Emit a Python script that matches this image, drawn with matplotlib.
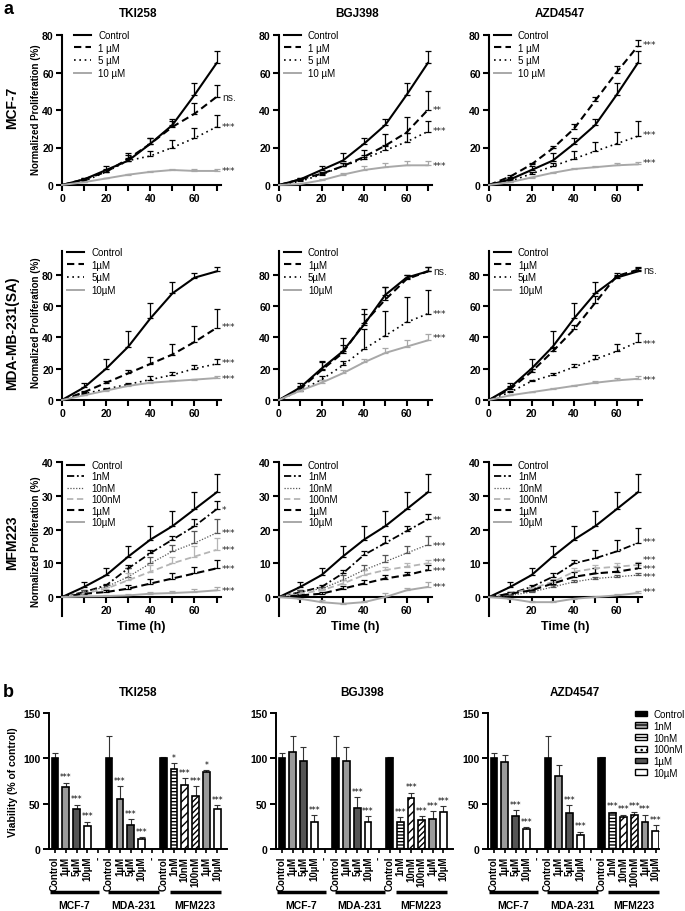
import numpy as np
import matplotlib.pyplot as plt
from matplotlib.patches import Patch
import matplotlib.transforms as mtransforms

plt.rcParams['font.family'] = ['Liberation Sans', 'DejaVu Sans']
plt.rcParams['hatch.linewidth'] = 1.0

# ---------------- panel a data ----------------
t_hours = [0, 10, 20, 30, 40, 50, 60, 70]
drugs = ['TKI258', 'BGJ398', 'AZD4547']
cell_lines = ['MCF-7', 'MDA-MB-231(SA)', 'MFM223']

labels_mcf7 = ['Control', '1 µM', '5 µM', '10 µM']
labels_mda = ['Control', '1µM', '5µM', '10µM']
labels_mfm = ['Control', '1nM', '10nM', '100nM', '1µM', '10µM']

# MCF-7
mcf7_ctrl = [0, 3, 8, 13, 22, 32, 48, 65]
mcf7_ctrl_err = [0, 1, 2, 4, 3, 3, 6.5, 6.5]
mcf7_tki = [[0, 3, 7, 14, 22, 31, 38, 47],
            [0, 2, 7, 13, 15.5, 20, 25, 31],
            [0, 1.5, 3.5, 5.5, 7, 8, 7.5, 7.5]]
mcf7_tki_err = [[0, 1, 1.5, 2, 3, 3, 6, 6.5],
                [0, 0.5, 1, 1.5, 2.5, 4, 5.5, 6.5],
                [0, 0.3, 0.3, 0.3, 0.6, 0.8, 1, 0.8]]
mcf7_bgj = [[0, 3, 6, 10, 15, 21, 28, 40],
            [0, 2, 5.5, 10, 14, 18.5, 23, 28.5],
            [0, 0.5, 2.5, 5.5, 8, 9.5, 10.5, 10.5]]
mcf7_bgj_err = [[0, 0.5, 1, 2, 3.5, 6, 8.5, 10],
                [0, 0.5, 1, 1.5, 2, 3, 5, 5.5],
                [0, 0.3, 0.5, 0.8, 2, 2.5, 2.5, 2.5]]
mcf7_azd = [[0, 4.5, 11, 19.5, 30, 45, 60, 74],
            [0, 2, 6, 10, 14, 18, 22, 26],
            [0, 1.5, 4, 6.5, 8.5, 9.5, 10.5, 11]]
mcf7_azd_err = [[0, 1, 1, 1.5, 2.5, 2, 3.5, 3.5],
                [0, 0.5, 1, 2, 4, 5, 6.5, 8],
                [0, 0.3, 0.5, 0.5, 0.8, 0.8, 1, 1.5]]

# MDA-MB-231(SA)
mda_ctrl = [0, 8, 20, 34, 52, 68, 78, 82]
mda_ctrl_err = [0, 3, 6, 10, 10, 7, 3, 3]
mda_bgj_ctrl = [0, 8, 20, 31, 48, 67, 78, 82]
mda_bgj_ctrl_err = [0, 3, 5, 8.5, 10, 5, 2, 3]
mda_tki = [[0, 5, 11, 17, 23, 29, 37, 46],
           [0, 4, 7, 10, 13, 16, 20, 23],
           [0, 3, 6, 9, 11, 12, 13, 14]]
mda_tki_err = [[0, 1, 1, 2, 4.5, 7, 10.5, 12],
               [0, 0.5, 0.5, 1, 2, 2, 2, 3],
               [0, 0.3, 0.3, 0.5, 0.5, 0.5, 0.5, 1]]
mda_bgj = [[0, 7, 19, 30, 49, 64, 77, 82],
           [0, 6, 13, 22, 32.5, 41, 49.5, 55],
           [0, 6, 11, 17, 24, 30, 34, 38]]
mda_bgj_err = [[0, 2, 5, 5, 6, 8, 3, 3],
               [0, 1, 2, 3, 12.5, 15.5, 16, 15],
               [0, 1, 1.5, 2, 2, 3, 4, 4]]
mda_azd = [[0, 7, 18, 31, 45, 62, 79, 83],
           [0, 5, 12, 16, 21, 26, 31, 37],
           [0, 3, 5, 7, 9, 11, 12.5, 13.5]]
mda_azd_err = [[0, 2, 2, 2, 3, 4, 1, 1],
               [0, 1, 1, 1.5, 2, 3, 5, 6],
               [0, 0.3, 0.3, 0.5, 0.5, 1, 1.5, 2]]

# MFM223
mfm_ctrl = [0, 3, 6.5, 12, 17, 21, 26, 31]
mfm_ctrl_err = [0, 1.5, 2, 3, 4, 4.5, 5, 5.5]
mfm_tki = [[0, 1.5, 3.5, 8.5, 13, 17, 21, 26],
           [0, 1.5, 3, 6, 10, 13.5, 16, 19],
           [0, 1, 2.5, 5, 7.5, 10, 12, 14],
           [0, 1, 1.5, 2.5, 4, 5.5, 7, 8.5],
           [0, 0.2, 0.3, 0.5, 1, 1.2, 1.5, 2]]
mfm_tki_err = [[0, 0.5, 0.5, 1, 1, 1, 2, 2.5],
               [0, 0.5, 0.5, 2.5, 2, 2, 3.5, 4],
               [0, 0.5, 0.5, 2, 2, 2, 3, 3.5],
               [0, 0.3, 0.5, 1, 1.5, 1.5, 2, 2.5],
               [0, 0.2, 0.3, 0.3, 0.5, 0.5, 1, 1]]
mfm_bgj = [[0, 1.5, 3, 7, 12.5, 16, 19.5, 23],
           [0, 1.5, 2.5, 5, 8, 10.5, 13, 15.5],
           [0, 1, 2, 4, 6.5, 8, 9, 10],
           [0, 0.5, 1, 2.5, 4, 5.5, 6.5, 8],
           [0, -0.5, -1.5, -2, -1.5, 0, 2, 3]]
mfm_bgj_err = [[0, 0.5, 0.5, 1, 1, 2, 1.5, 1.5],
               [0, 0.5, 0.5, 1.5, 1.5, 2, 2, 2.5],
               [0, 0.5, 0.5, 1, 1.5, 1, 1, 1],
               [0, 0.3, 0.5, 0.8, 1, 1, 1, 1.5],
               [0, 0.3, 0.5, 0.3, 0.3, 1.3, 0.8, 1.5]]
mfm_azd = [[0, 1, 3, 6, 10, 11.5, 13.5, 16],
           [0, 0.5, 1.5, 3, 4.5, 5.5, 6, 6.5],
           [0, 1, 2.5, 4.5, 7.5, 8.5, 9, 9.5],
           [0, 1, 2, 4, 6, 7, 7.5, 8.5],
           [0, -0.5, -1.5, -1.5, -0.5, 0, 0.5, 1.2]]
mfm_azd_err = [[0, 0.5, 0.5, 1, 1, 2.5, 3.5, 4.5],
               [0, 0.3, 0.3, 0.5, 0.5, 0.5, 0.5, 0.5],
               [0, 0.5, 0.5, 1, 1, 1, 1, 1],
               [0, 0.5, 0.5, 1, 1.5, 1.5, 1.5, 1.5],
               [0, 0.3, 0.3, 0.3, 0.3, 0.3, 0.5, 0.7]]

# significance labels at end of curves
sig_mcf7 = [(['ns.', '***', '***'], [47, 31, 7.5]),
            (['**', '***', '***'], [40, 29, 10.5]),
            (['***', '***', '***'], [75, 27, 12])]
sig_mda = [(['***', '***', '***'], [47, 24, 14]),
           (['ns.', '***', '***'], [82, 55, 40]),
           (['ns.', '***', '***'], [83, 36, 13])]
sig_mfm = [(['*', '***', '***', '***', '***'], [26, 19, 14, 8.5, 2]),
           (['**', '***', '***', '***', '***'], [23, 15.2, 10.6, 7.8, 3]),
           (['***', '***', '***', '***', '***'], [16.5, 11, 8.5, 6, 1.8])]

# ---------------- panel b data ----------------
bar_labels = ['Control', '1µM', '5µM', '10µM', '-',
              'Control', '1µM', '5µM', '10µM', '-',
              'Control', '1nM', '10nM', '100nM', '1µM', '10µM']
groups = ['MCF-7', 'MDA-231', 'MFM223']
via_tki = [100, 68, 44, 25, 0, 100, 55, 26, 11, 0, 100, 88, 71, 58, 85, 44]
via_tki_err = [6, 5, 5, 5, 0, 25, 14, 7, 2, 0, 2, 7, 7, 11, 2, 4]
via_tki_sig = ['', '***', '***', '***', '', '', '***', '***', '***', '',
               '', '*', '***', '***', '*', '***']
via_bgj = [100, 107, 97, 30, 0, 100, 97, 45, 30, 0, 100, 30, 56, 32, 33, 41]
via_bgj_err = [6, 18, 15, 7, 0, 25, 15, 12, 6, 0, 2, 5, 6, 4, 9, 6]
via_bgj_sig = ['', '', '', '***', '', '', '', '***', '***', '',
               '', '***', '***', '***', '***', '***']
via_azd = [100, 96, 36, 22, 0, 100, 81, 40, 15, 0, 100, 40, 35, 37, 30, 20]
via_azd_err = [6, 8, 7, 2, 0, 25, 12, 8, 4, 0, 2, 1, 3, 4, 8, 6]
via_azd_sig = ['', '', '***', '***', '', '', '', '***', '***', '',
               '', '***', '***', '***', '***', '***']

W, H = 685, 912
fig = plt.figure(figsize=(W / 100, H / 100), dpi=100)


def rect(l, t, r, b):
    return [l / W, 1 - b / H, (r - l) / W, (b - t) / H]


def fig_text(x, y, s, **kw):
    fig.text(x / W, 1 - y / H, s, **kw)


# line styles
style_4 = [dict(color='black', ls='-', lw=1.5),
           dict(color='black', ls=(0, (3.5, 2)), lw=1.5),
           dict(color='black', ls=(0, (1, 2.2)), lw=1.2),
           dict(color='#a8a8a8', ls='-', lw=1.4)]
style_6 = [dict(color='black', ls='-', lw=1.5),
           dict(color='black', ls=(0, (4, 1.5, 1, 1.5)), lw=1.3),
           dict(color='#555555', ls=(0, (1, 1.3)), lw=0.9),
           dict(color='#b5b5b5', ls=(0, (3.5, 2)), lw=1.3),
           dict(color='black', ls=(0, (3.5, 2)), lw=1.5),
           dict(color='#a8a8a8', ls='-', lw=1.4)]

col_px = [(62, 221), (279, 432), (489, 642)]
row_px = [(36, 186, (0, 80), [0, 20, 40, 60, 80]),
          (252, 401, (0, 95), [0, 20, 40, 60, 80]),
          (463, 617, (-5.6, 40), [0, 10, 20, 30, 40])]
leg_x = [[0.075, 0.03, 0.03], [0.03, 0.03, 0.03], [0.03, 0.03, 0.03]]
leg_y = [1.033, 1.027, 1.013]

row_data = [
    ([mcf7_ctrl] + mcf7_tki, [mcf7_ctrl_err] + mcf7_tki_err,
     [mcf7_ctrl] + mcf7_bgj, [mcf7_ctrl_err] + mcf7_bgj_err,
     [mcf7_ctrl] + mcf7_azd, [mcf7_ctrl_err] + mcf7_azd_err),
    ([mda_ctrl] + mda_tki, [mda_ctrl_err] + mda_tki_err,
     [mda_bgj_ctrl] + mda_bgj, [mda_bgj_ctrl_err] + mda_bgj_err,
     [mda_ctrl] + mda_azd, [mda_ctrl_err] + mda_azd_err),
    ([mfm_ctrl] + mfm_tki, [mfm_ctrl_err] + mfm_tki_err,
     [mfm_ctrl] + mfm_bgj, [mfm_ctrl_err] + mfm_bgj_err,
     [mfm_ctrl] + mfm_azd, [mfm_ctrl_err] + mfm_azd_err),
]
row_labels = [labels_mcf7, labels_mda, labels_mfm]
row_sig = [sig_mcf7, sig_mda, sig_mfm]

for r in range(3):
    top, bot, ylim, yticks = row_px[r]
    styles = style_6 if r == 2 else style_4
    for c in range(3):
        ax = fig.add_axes(rect(col_px[c][0], top, col_px[c][1], bot))
        means = row_data[r][2 * c]
        errs = row_data[r][2 * c + 1]
        for i, (m, e) in enumerate(zip(means, errs)):
            st = styles[i]
            ax.errorbar(t_hours[1:], m[1:], yerr=[np.zeros(7), e[1:]], fmt='none',
                        ecolor=st['color'], elinewidth=0.9, capsize=2.4,
                        capthick=0.9, clip_on=False, zorder=2)
            ax.plot(t_hours, m, label=row_labels[r][i], clip_on=False,
                    zorder=3, **st)
        for s, y in zip(*row_sig[r][c]):
            if s == 'ns.':
                ax.text(72.8, y, s, fontsize=7.5, va='center', ha='left',
                        color='#222222')
            else:
                ax.text(72.5, y, s, fontsize=6.5, va='center', ha='left',
                        color='#222222', family='DejaVu Sans')
        ax.set_xlim(0, 72)
        ax.set_ylim(*ylim)
        ax.set_yticks(yticks)
        if r == 2:
            ax.set_xticks([20, 40, 60])
            ax.spines['bottom'].set_position(('data', 0))
        else:
            ax.set_xticks([0, 20, 40, 60])
        ax.set_xticks([10, 30, 50, 70], minor=True)
        for sp in ['top', 'right']:
            ax.spines[sp].set_visible(False)
        for sp in ['left', 'bottom']:
            ax.spines[sp].set_linewidth(1.5)
        ax.tick_params(which='both', width=1.5, length=4, labelsize=7.5,
                       pad=2)
        for lab in ax.get_xticklabels() + ax.get_yticklabels():
            lab.set_fontweight('bold')
        ax.legend(loc='upper left', bbox_to_anchor=(leg_x[r][c], leg_y[r]),
                  frameon=False, fontsize=7, borderpad=0, borderaxespad=0,
                  handlelength=1.8, handletextpad=0.7,
                  labelspacing=0.15 if r == 2 else 0.28)
        if r == 2:
            ax.set_xlabel('Time (h)', fontsize=9, fontweight='bold',
                          labelpad=3)

# panel a labels
fig_text(3, 10, 'a', fontsize=13, fontweight='bold', va='center')
for x, d in zip([138, 357, 560], drugs):
    fig_text(x, 14, d, fontsize=8.5, fontweight='bold', ha='center',
             va='center')
for y, cl in zip([108, 333, 543], cell_lines):
    fig_text(12, y, cl, fontsize=10, fontweight='bold', rotation=90,
             ha='center', va='center')
for y in [110, 323, 542]:
    fig_text(36, y, 'Normalized Proliferation (%)', fontsize=7,
             fontweight='bold', rotation=90, ha='center', va='center')

# ---------------- panel b ----------------
bar_face = ['black', '#9a9a9a', '#555555', 'white', 'white',
            'black', '#9a9a9a', '#555555', 'white', 'white',
            'black', 'white', 'white', 'white', '#9a9a9a', 'white']
bar_hatch = [None] * 11 + ['-----', '////', '//////', None, None]

bcol_px = [(49, 227, 15.9), (276, 453, 15.9), (488, 659, 15.3)]
via_all = [(via_tki, via_tki_err, via_tki_sig),
           (via_bgj, via_bgj_err, via_bgj_sig),
           (via_azd, via_azd_err, via_azd_sig)]
group_span = [(-0.5, 4.1), (4.9, 9.6), (10.6, 15.3)]

for c in range(3):
    l, r_, xmax = bcol_px[c]
    ax = fig.add_axes(rect(l, 714, r_, 850))
    vals, errs, sigs = via_all[c]
    x = np.arange(len(bar_labels))
    for i in range(len(x)):
        if bar_labels[i] == '-':
            continue
        ax.bar(x[i], vals[i], width=0.62, color=bar_face[i], edgecolor='black',
               linewidth=1.2, hatch=bar_hatch[i], zorder=2)
        ax.errorbar(x[i], vals[i], yerr=[[0], [errs[i]]], fmt='none',
                    ecolor='#333333', elinewidth=0.8, capsize=2, capthick=0.8,
                    zorder=1)
        if sigs[i]:
            ax.text(x[i], vals[i] + errs[i] + 1.5, sigs[i], fontsize=5.5,
                    ha='center', va='bottom', family='DejaVu Sans')
    ax.set_xlim(-0.55, xmax)
    ax.set_ylim(0, 150)
    ax.set_yticks([0, 50, 100, 150])
    ax.set_xticks(x)
    ax.set_xticklabels(bar_labels, rotation=90, fontsize=7,
                       fontweight='bold')
    for lab in ax.get_yticklabels():
        lab.set_fontweight('bold')
    for sp in ['top', 'right']:
        ax.spines[sp].set_visible(False)
    for sp in ['left', 'bottom']:
        ax.spines[sp].set_linewidth(1.4)
    ax.tick_params(axis='y', width=1.4, length=4, labelsize=7.5, pad=2)
    ax.tick_params(axis='x', width=1.2, length=3, pad=2)
    trans = mtransforms.blended_transform_factory(ax.transData, ax.transAxes)
    for (g0, g1), g in zip(group_span, groups):
        ax.plot([g0, g1], [-0.316, -0.316], color='black', lw=2.5,
                transform=trans, clip_on=False, solid_capstyle='butt')
        ax.text((g0 + g1) / 2, -0.415, g, transform=trans, ha='center',
                va='center', fontsize=7.5, fontweight='bold')
    if c == 0:
        ax.set_ylabel('Viability (% of control)', fontsize=7.5,
                      fontweight='bold', labelpad=4)
    if c == 2:
        handles = [Patch(facecolor='black', edgecolor='black'),
                   Patch(facecolor='#aaaaaa', edgecolor='black', hatch='---'),
                   Patch(facecolor='white', edgecolor='black', hatch='--'),
                   Patch(facecolor='white', edgecolor='black', hatch='...'),
                   Patch(facecolor='#555555', edgecolor='black'),
                   Patch(facecolor='white', edgecolor='black')]
        leg_labels = ['Control', '1nM', '10nM', '100nM', '1µM', '10µM']
        ax.legend(handles, leg_labels, loc='upper left',
                  bbox_to_anchor=(635 / W, 1 - 710 / H),
                  bbox_transform=fig.transFigure, frameon=False, fontsize=7,
                  borderpad=0, borderaxespad=0, handlelength=1.2,
                  handleheight=0.55, handletextpad=0.7, labelspacing=0.18)

fig_text(3, 693, 'b', fontsize=13, fontweight='bold', va='center')
for x, d in zip([138, 362, 575], drugs):
    fig_text(x, 693, d, fontsize=8.5, fontweight='bold', ha='center',
             va='center')

fig.savefig('out.png', dpi=100)
